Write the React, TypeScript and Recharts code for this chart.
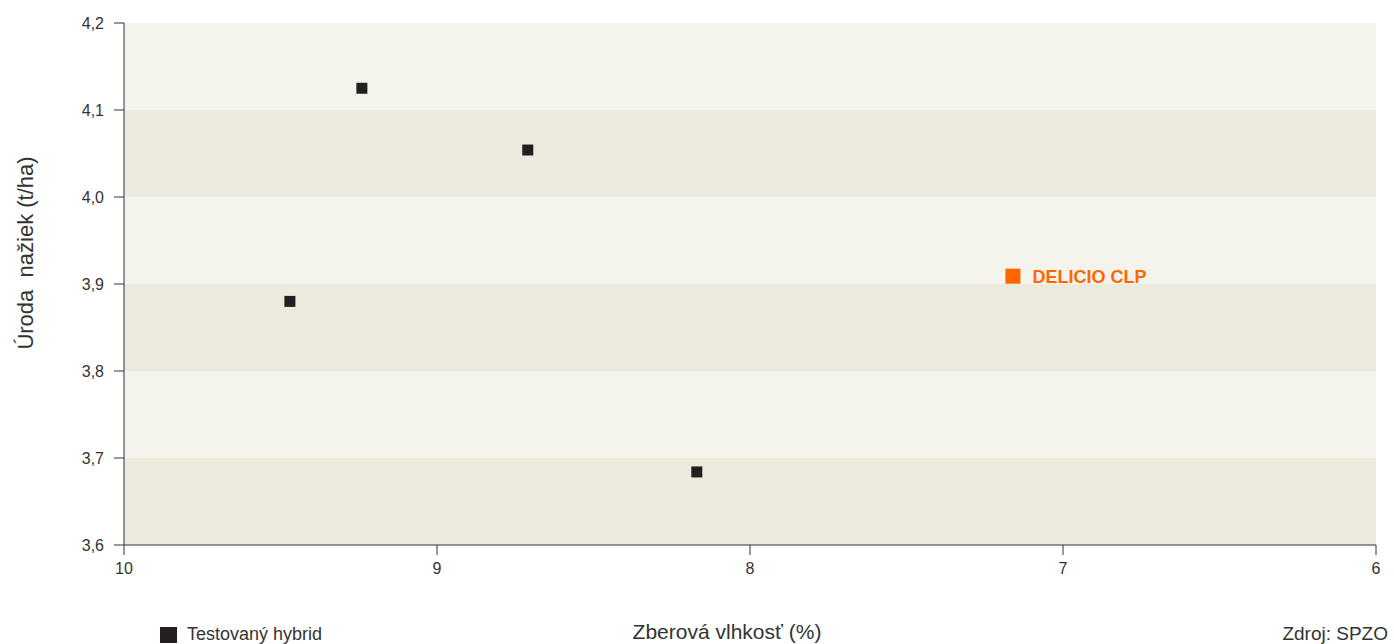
import { ScatterChart, Scatter, XAxis, YAxis, ReferenceArea } from 'recharts'

interface Point {
  moisture: number
  yieldT: number
}

const X_TICKS = [10, 9, 8, 7, 6]
const Y_TICKS = [3.6, 3.7, 3.8, 3.9, 4.0, 4.1, 4.2]

const tested: Point[] = [
  { moisture: 9.47, yieldT: 3.88 },
  { moisture: 9.24, yieldT: 4.125 },
  { moisture: 8.71, yieldT: 4.054 },
  { moisture: 8.17, yieldT: 3.684 },
]

const delicio: Point[] = [{ moisture: 7.16, yieldT: 3.909 }]
const DELICIO_NAME = 'DELICIO CLP'

const BAND_LIGHT = '#f4f4ec'
const BAND_DARK = '#ece9dd'
const FONT = '"Liberation Sans", Arial, Helvetica, sans-serif'

const fmt = (v: number) => v.toFixed(1).replace('.', ',')

function BlackSquare(props: any) {
  const { cx, cy } = props
  return <rect x={cx - 5.5} y={cy - 5.5} width={11} height={11} fill="#231f20" />
}

function OrangeSquare(props: any) {
  const { cx, cy } = props
  return (
    <g>
      <rect x={cx - 7.5} y={cy - 7.5} width={15} height={15} fill="#ff6600" />
      <text x={cx + 19.5} y={cy + 6.5} fill="#ff6600" fontSize={18} fontWeight="bold" fontFamily={FONT}>
        {DELICIO_NAME}
      </text>
    </g>
  )
}

export default function App() {
  const bands = Y_TICKS.slice(0, -1).map((y, i) => ({ y1: y, y2: Y_TICKS[i + 1], dark: i % 2 === 0 }))
  return (
    <div style={{ position: 'absolute', left: 0, top: 0, width: 1394, height: 644, fontFamily: FONT, background: '#fff', overflow: 'hidden' }}>
      <ScatterChart width={1394} height={644} margin={{ top: 23, right: 18, bottom: 59, left: 14 }}>
        {bands.map((b, i) => (
          <ReferenceArea
            key={i}
            x1={10}
            x2={6}
            y1={b.y1}
            y2={b.y2}
            fill={b.dark ? BAND_DARK : BAND_LIGHT}
            fillOpacity={1}
            stroke="none"
            ifOverflow="hidden"
          />
        ))}
        <XAxis
          type="number"
          dataKey="moisture"
          domain={[6, 10]}
          reversed
          ticks={X_TICKS}
          height={40}
          tickSize={10}
          tickMargin={8}
          stroke="#333"
          tick={{ fill: '#333', fontSize: 16, fontFamily: FONT }}
          allowDataOverflow
        />
        <YAxis
          type="number"
          dataKey="yieldT"
          domain={[3.6, 4.2]}
          ticks={Y_TICKS}
          width={110}
          tickSize={10}
          tickMargin={10}
          stroke="#333"
          tickFormatter={fmt}
          tick={{ fill: '#333', fontSize: 16, fontFamily: FONT }}
          allowDataOverflow
        />
        <Scatter data={tested} shape={BlackSquare} isAnimationActive={false} />
        <Scatter data={delicio} shape={OrangeSquare} isAnimationActive={false} />
      </ScatterChart>
      <svg width={60} height={644} style={{ position: 'absolute', left: 0, top: 0 }}>
        <text
          x={33}
          y={253}
          transform="rotate(-90, 33, 253)"
          textAnchor="middle"
          fill="#333"
          fontSize={22}
          fontFamily={FONT}
          style={{ whiteSpace: 'pre' }}
        >
          {'Úroda  nažiek (t/ha)'}
        </text>
      </svg>
      <div style={{ position: 'absolute', left: 527, width: 400, top: 621, lineHeight: '21px', textAlign: 'center', fontSize: 21, color: '#333', whiteSpace: 'nowrap' }}>
        Zberová vlhkosť (%)
      </div>
      <div style={{ position: 'absolute', left: 160, top: 625, height: 18, display: 'flex', alignItems: 'flex-start', fontSize: 18, lineHeight: '18px', color: '#333' }}>
        <span style={{ display: 'inline-block', width: 17, height: 16, background: '#231f20', marginRight: 10, marginTop: 2 }} />
        Testovaný hybrid
      </div>
      <div style={{ position: 'absolute', right: 6, top: 624, fontSize: 19, lineHeight: '19px', color: '#333' }}>Zdroj: SPZO</div>
    </div>
  )
}
